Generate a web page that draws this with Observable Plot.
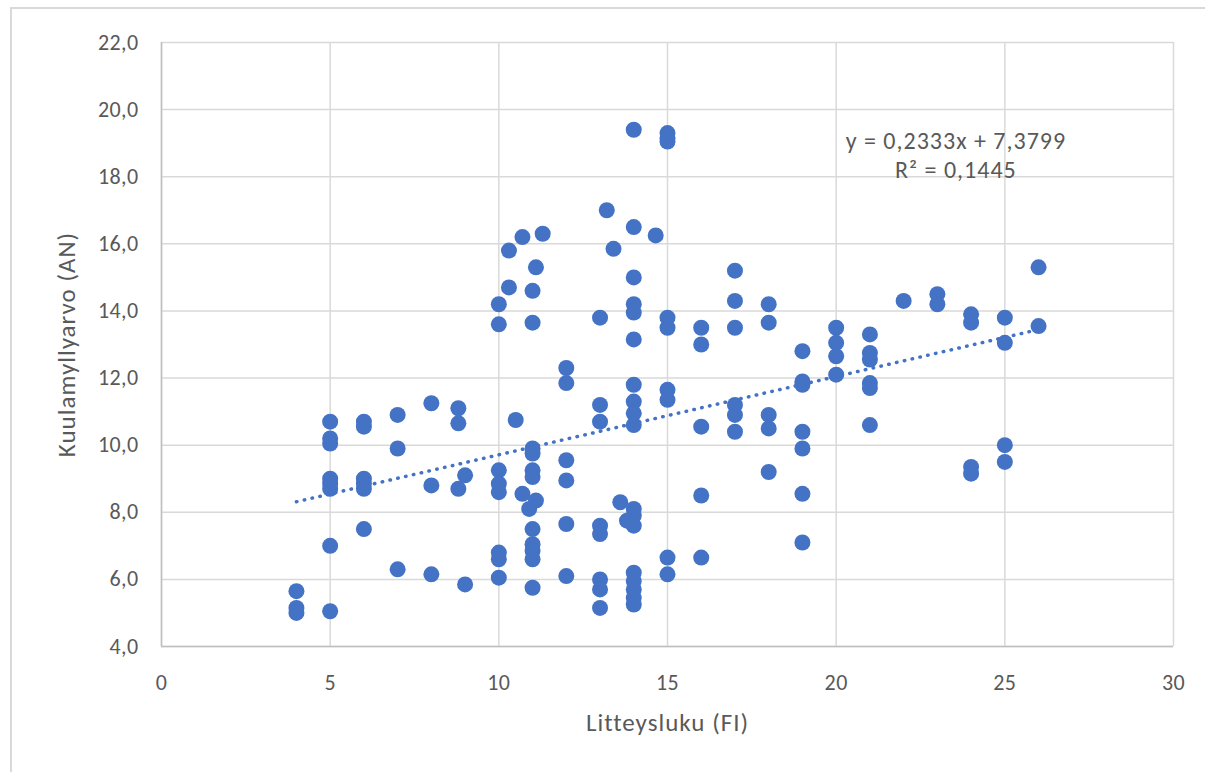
<!DOCTYPE html>
<html>
<head>
<meta charset="utf-8">
<script src="https://cdn.jsdelivr.net/npm/d3@7"></script>
<script src="https://cdn.jsdelivr.net/npm/@observablehq/plot@0.6"></script>
<style>
  html, body { margin: 0; padding: 0; background: #ffffff; }
  #wrap { position: relative; width: 1205px; height: 772px; overflow: hidden; }
  #border { position: absolute; left: 10px; top: 7px; width: 1300px; height: 900px;
            border-top: 2px solid #d9d9d9; border-left: 2px solid #d9d9d9; }
  #chart { position: absolute; left: 0; top: 0; }
  #chart g[aria-label="x-axis label"] text,
  #chart g[aria-label="y-axis label"] text { font-size: 25px; letter-spacing: 1px; }
  #chart g[aria-label="text"] text { letter-spacing: 1px; }
  #chart g[aria-label="x-axis tick label"] text,
  #chart g[aria-label="y-axis tick label"] text { letter-spacing: 0.4px; }
</style>
</head>
<body>
<div id="wrap"><div id="border"></div><div id="chart"></div></div>
<script>
// Litteysluku (FI) values
const fi = [
  4, 4, 4,
  5, 5, 5, 5, 5, 5, 5, 5,
  6, 6, 6, 6, 6, 6,
  7, 7, 7,
  8, 8, 8,
  8.8, 8.8, 8.8,
  9, 9,
  10, 10, 10, 10, 10, 10, 10, 10,
  10.3, 10.3, 10.5, 10.7, 10.7, 10.9, 11.3,
  11.1, 11, 11, 11, 11, 11, 11, 11.1, 11, 11, 11, 11, 11,
  12, 12, 12, 12, 12, 12,
  13.2, 13.4, 13, 13, 13, 13, 13, 13, 13, 13, 13.6,
  14, 14, 14, 14, 14, 14, 14, 14, 14, 14, 14, 14, 13.8, 14, 14, 14, 14, 14, 14, 14.65,
  15, 15, 15, 15, 15, 15, 15, 15, 15,
  16, 16, 16, 16, 16,
  17, 17, 17, 17, 17, 17,
  18, 18, 18, 18, 18,
  19, 19, 19, 19, 19, 19, 19,
  20, 20, 20, 20,
  21, 21, 21, 21, 21, 21,
  22,
  23, 23,
  24, 24, 24, 24,
  25, 25, 25, 25,
  26, 26
];
// Kuulamyllyarvo (AN) values
const an = [
  5.65, 5.15, 5.0,
  10.7, 10.2, 10.05, 9.0, 8.85, 8.7, 7.0, 5.05,
  10.7, 10.55, 9.0, 8.85, 8.7, 7.5,
  10.9, 9.9, 6.3,
  11.25, 8.8, 6.15,
  11.1, 10.65, 8.7,
  9.1, 5.85,
  14.2, 13.6, 9.25, 8.85, 8.6, 6.8, 6.6, 6.05,
  15.8, 14.7, 10.75, 16.2, 8.55, 8.1, 16.3,
  15.3, 14.6, 13.65, 9.9, 9.75, 9.25, 9.05, 8.35, 7.5, 7.05, 6.85, 6.6, 5.75,
  12.3, 11.85, 9.55, 8.95, 7.65, 6.1,
  17.0, 15.85, 13.8, 11.2, 10.7, 7.6, 7.35, 6.0, 5.7, 5.15, 8.3,
  19.4, 16.5, 15.0, 14.2, 13.95, 13.15, 11.8, 11.3, 10.95, 10.6, 8.1, 7.9, 7.75, 7.6, 6.2, 5.95, 5.7, 5.45, 5.25, 16.25,
  19.3, 19.15, 19.05, 13.8, 13.5, 11.65, 11.35, 6.65, 6.15,
  13.5, 13.0, 10.55, 8.5, 6.65,
  15.2, 14.3, 13.5, 11.2, 10.9, 10.4,
  14.2, 13.65, 10.9, 10.5, 9.2,
  12.8, 11.9, 11.8, 10.4, 9.9, 8.55, 7.1,
  13.5, 13.05, 12.65, 12.1,
  13.3, 12.75, 12.55, 11.85, 11.7, 10.6,
  14.3,
  14.5, 14.2,
  13.9, 13.65, 9.35, 9.15,
  13.8, 13.05, 10.0, 9.5,
  15.3, 13.55
];
const xTicks = [0, 5, 10, 15, 20, 25, 30];
const yTicks = [4, 6, 8, 10, 12, 14, 16, 18, 20, 22];
const slope = 0.2333;
const intercept = 7.3799;
const eqLines = ["y = 0,2333x + 7,3799", "R² = 0,1445"];

const points = fi.map((x, i) => ({x, y: an[i]}));
const xMin = d3.min(fi), xMax = d3.max(fi);
const trend = [xMin, xMax].map(x => ({x, y: slope * x + intercept}));

const fmtY = d => d.toFixed(1).replace(".", ",");
const textColor = "#595959";
const font = "Calibri, Carlito, Lato, 'Open Sans', sans-serif";

const chart = Plot.plot({
  width: 1205,
  height: 772,
  marginLeft: 161,
  marginRight: 32,
  marginTop: 42,
  marginBottom: 126,
  style: {fontFamily: font, fontSize: "22px", color: textColor, background: "transparent", overflow: "visible"},
  x: {domain: [0, 30]},
  y: {domain: [4, 22]},
  marks: [
    Plot.gridX(xTicks, {stroke: "#d9d9d9", strokeOpacity: 1, strokeWidth: 1.5}),
    Plot.gridY(yTicks, {stroke: "#d9d9d9", strokeOpacity: 1, strokeWidth: 1.5}),
    Plot.ruleX([0], {stroke: "#bfbfbf", strokeWidth: 1.5}),
    Plot.ruleY([4], {stroke: "#bfbfbf", strokeWidth: 1.5}),
    Plot.axisX(xTicks, {tickSize: 0, tickPadding: 28, fontSize: 22, fill: textColor,
      label: "Litteysluku (FI)", labelAnchor: "center", labelOffset: 84, labelArrow: "none"}),
    Plot.axisY(yTicks, {tickSize: 0, tickPadding: 23, fontSize: 22, fill: textColor, tickFormat: fmtY,
      label: "Kuulamyllyarvo (AN)", labelAnchor: "center", labelOffset: 104, labelArrow: "none"}),
    Plot.dot(points, {x: "x", y: "y", r: 8, fill: "#4472C4", stroke: "none"}),
    Plot.line(trend, {x: "x", y: "y", stroke: "#4472C4", strokeWidth: 3.5,
      strokeDasharray: "0.5,7.5", strokeLinecap: "round"}),
    Plot.text([eqLines.join("\n")], {x: 23.55, y: 18.68, text: d => d, fontSize: 24,
      fill: textColor, textAnchor: "middle", lineAnchor: "middle", lineHeight: 1.25})
  ]
});
document.getElementById("chart").appendChild(chart);
</script>
</body>
</html>
